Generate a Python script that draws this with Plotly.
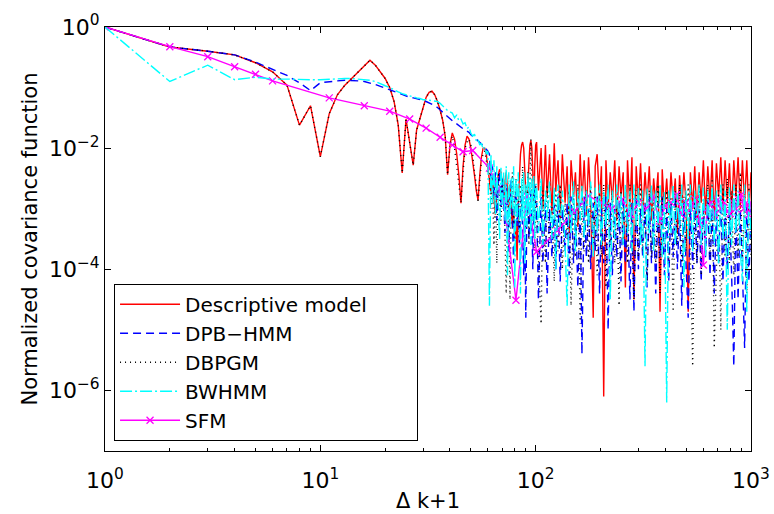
import plotly.graph_objects as go

# Lag axis (k+1): every integer up to 100, then a log-spaced subset up to 1000
lags_dense = list(range(1, 101))
lags_sparse = [
    101, 103, 106, 108, 111, 113, 116, 119, 122, 124,
    127, 130, 133, 137, 140, 143, 146, 150, 153, 157,
    161, 164, 168, 172, 176, 180, 185, 189, 193, 198,
    202, 207, 212, 217, 222, 227, 233, 238, 244, 249,
    255, 261, 267, 274, 280, 286, 293, 300, 307, 314,
    322, 329, 337, 345, 353, 361, 370, 378, 387, 396,
    406, 415, 425, 435, 445, 455, 466, 477, 488, 499,
    511, 523, 536, 548, 561, 574, 587, 601, 615, 630,
    645, 660, 675, 691, 707, 724, 741, 758, 776, 794,
    813, 832, 851, 871, 892, 912, 934, 956, 978, 1000,
]
lags = lags_dense + lags_sparse

# Normalized covariance, stored as log10 values (one row = 10 lags)
descriptive_log = [
    0.00, -0.33, -0.40, -0.46, -0.59, -0.74, -0.96, -1.62, -1.30, -2.14,
    -1.43, -1.12, -0.96, -0.85, -0.74, -0.64, -0.55, -0.63, -0.74, -0.85,
    -1.00, -1.23, -1.62, -2.41, -1.52, -1.90, -2.28, -1.70, -1.50, -1.32,
    -1.16, -1.08, -1.06, -1.12, -1.23, -1.37, -1.54, -1.80, -2.44, -1.95,
    -1.75, -1.85, -2.10, -2.45, -2.91, -2.30, -1.95, -1.80, -1.85, -2.00,
    -2.20, -2.45, -2.70, -2.86, -2.45, -2.15, -2.00, -2.00, -2.10, -2.30,
    -2.50, -2.75, -2.50, -2.90, -3.10, -2.70, -2.45, -2.35, -2.40, -2.60,
    -2.90, -2.55, -2.40, -2.70, -3.00, -2.60, -2.90, -3.30, -3.00, -3.50,
    -3.20, -3.85, -2.90, -2.40, -2.10, -1.95, -1.90, -2.00, -2.30, -2.75,
    -3.10, -2.60, -2.20, -1.95, -1.87, -2.00, -2.40, -2.90, -2.30, -1.95,
    -1.90, -2.70, -2.00, -3.00, -1.95, -2.80, -2.10, -3.10, -1.92, -2.70,
    -2.20, -3.20, -2.10, -2.90, -2.30, -3.40, -2.20, -2.80, -2.40, -3.30,
    -2.10, -2.90, -2.20, -3.10, -2.15, -2.80, -4.80, -2.30, -2.10, -2.90,
    -2.30, -6.10, -2.20, -3.00, -2.40, -2.90, -2.20, -3.20, -2.30, -2.80,
    -2.40, -4.30, -2.20, -3.00, -2.15, -4.50, -2.30, -2.90, -2.25, -3.10,
    -2.40, -2.90, -2.30, -3.20, -2.50, -2.90, -2.40, -4.70, -2.35, -3.00,
    -2.50, -3.10, -2.40, -2.90, -2.50, -3.40, -2.45, -3.00, -2.40, -2.90,
    -4.70, -2.40, -3.00, -2.30, -3.20, -2.40, -2.90, -2.20, -3.10, -2.30,
    -2.90, -2.20, -3.20, -2.25, -2.80, -2.15, -3.00, -2.20, -2.90, -2.25,
    -3.10, -2.20, -2.80, -2.15, -3.00, -2.20, -2.90, -2.20, -3.10, -2.40,
]

dpb_hmm_log = [
    0.00, -0.33, -0.40, -0.46, -0.58, -0.70, -0.80, -0.92, -1.05, -0.92,
    -0.90, -0.89, -0.88, -0.88, -0.89, -0.90, -0.92, -0.95, -0.98, -1.01,
    -1.04, -1.07, -1.10, -1.12, -1.14, -1.16, -1.17, -1.18, -1.19, -1.21,
    -1.23, -1.25, -1.27, -1.30, -1.33, -1.37, -1.41, -1.45, -1.49, -1.52,
    -1.55, -1.58, -1.60, -1.63, -1.66, -1.68, -1.70, -1.72, -1.74, -1.78,
    -1.80, -1.82, -1.85, -1.88, -1.90, -1.93, -1.96, -1.99, -2.02, -2.05,
    -2.10, -2.50, -2.30, -2.80, -2.40, -3.20, -2.60, -2.40, -3.00, -2.50,
    -2.80, -3.40, -2.60, -3.00, -3.70, -2.80, -2.50, -3.10, -3.90, -2.90,
    -2.70, -3.30, -2.90, -3.60, -3.00, -2.70, -3.40, -4.10, -3.20, -4.80,
    -3.00, -2.80, -3.50, -3.10, -2.70, -3.30, -4.00, -3.00, -2.60, -3.20,
    -2.90, -4.50, -2.80, -3.90, -2.90, -4.40, -3.00, -3.80, -2.90, -4.00,
    -2.80, -4.20, -3.00, -3.70, -2.90, -4.10, -2.80, -3.90, -3.00, -4.30,
    -2.90, -5.40, -2.80, -3.80, -3.00, -4.00, -2.90, -3.70, -2.80, -4.40,
    -3.00, -3.90, -2.80, -5.00, -2.90, -4.10, -3.00, -3.80, -2.90, -4.20,
    -2.80, -3.90, -3.00, -4.50, -2.90, -4.70, -2.80, -4.00, -3.00, -3.80,
    -2.90, -4.30, -2.80, -3.90, -3.00, -4.40, -2.90, -3.80, -2.80, -4.10,
    -3.00, -4.20, -2.90, -3.80, -2.80, -4.00, -3.00, -4.60, -2.90, -3.90,
    -4.80, -2.90, -4.00, -2.80, -3.90, -3.00, -4.20, -2.90, -3.80, -2.80,
    -4.10, -2.90, -4.40, -3.00, -3.90, -2.80, -4.20, -2.90, -4.00, -3.00,
    -4.10, -5.60, -2.90, -4.50, -3.00, -4.00, -5.30, -2.90, -4.20, -3.00,
]

# DBPGM follows the descriptive model over the first 40 lags
dbpgm_log = descriptive_log[:40] + [
    -1.80, -2.00, -2.30, -2.60, -2.90, -2.40, -2.00, -1.90, -1.85, -1.95,
    -2.10, -2.40, -2.60, -2.90, -2.50, -2.20, -2.10, -2.05, -2.20, -2.40,
    -2.30, -3.00, -2.50, -3.60, -2.60, -3.90, -2.40, -2.80, -3.20, -2.50,
    -2.60, -3.40, -4.40, -2.80, -3.00, -4.50, -2.70, -2.40, -3.30, -2.90,
    -2.50, -3.10, -2.70, -3.50, -2.60, -3.00, -2.30, -2.80, -3.30, -2.60,
    -2.90, -2.40, -3.60, -2.70, -1.85, -2.80, -3.20, -2.50, -3.70, -2.60,
    -2.80, -3.80, -4.90, -2.70, -3.90, -2.60, -3.60, -2.90, -4.20, -2.70,
    -3.70, -2.60, -4.00, -2.90, -3.50, -2.70, -4.60, -2.80, -3.80, -2.60,
    -4.90, -2.90, -3.70, -2.70, -3.90, -2.60, -3.60, -2.80, -4.10, -2.70,
    -3.80, -2.60, -4.30, -2.90, -3.60, -2.70, -3.90, -2.80, -4.60, -2.70,
    -3.60, -2.80, -3.90, -2.60, -3.70, -4.50, -2.70, -3.80, -2.60, -3.70,
    -2.90, -4.20, -2.70, -3.80, -2.80, -3.90, -2.60, -4.40, -2.80, -3.70,
    -2.70, -3.90, -2.80, -4.70, -2.70, -3.60, -2.60, -3.90, -2.80, -3.70,
    -2.60, -3.80, -5.60, -2.80, -3.90, -2.60, -4.10, -2.90, -3.70, -2.60,
    -3.80, -2.50, -5.30, -3.90, -2.70, -5.00, -2.60, -3.80, -2.50, -3.90,
    -2.70, -4.10, -2.60, -3.80, -2.40, -3.90, -2.80, -4.40, -2.60, -3.80,
]

bwhmm_log = [
    0.00, -0.90, -0.63, -0.87, -0.83, -0.86, -0.86, -0.87, -0.87, -0.87,
    -0.86, -0.85, -0.85, -0.85, -0.86, -0.87, -0.88, -0.90, -0.93, -0.97,
    -1.00, -1.04, -1.07, -1.10, -1.12, -1.14, -1.15, -1.17, -1.18, -1.20,
    -1.20, -1.21, -1.22, -1.22, -1.23, -1.26, -1.30, -1.35, -1.38, -1.40,
    -1.42, -1.50, -1.45, -1.55, -1.52, -1.60, -1.58, -1.68, -1.65, -1.75,
    -1.80, -1.77, -1.88, -1.85, -1.95, -1.92, -2.02, -1.98, -2.10, -2.05,
    -4.60, -2.10, -2.90, -2.20, -3.10, -2.30, -2.90, -3.50, -2.30, -3.00,
    -2.40, -3.20, -2.30, -4.10, -2.40, -3.30, -2.50, -3.00, -2.30, -4.30,
    -2.50, -3.20, -2.40, -3.00, -4.40, -2.50, -3.20, -2.40, -3.90, -2.60,
    -3.30, -2.40, -3.10, -2.50, -3.60, -2.50, -3.20, -2.45, -3.50, -2.60,
    -2.60, -3.40, -2.50, -3.60, -2.70, -3.20, -2.55, -3.50, -2.65, -4.00,
    -2.60, -3.30, -2.70, -3.60, -4.60, -2.60, -3.40, -2.55, -3.70, -2.70,
    -3.20, -2.60, -3.50, -2.70, -3.30, -2.55, -3.80, -2.65, -3.40, -2.60,
    -3.60, -2.70, -3.30, -2.60, -4.50, -2.70, -3.50, -2.60, -3.30, -2.75,
    -3.60, -2.60, -3.40, -2.70, -3.70, -2.60, -3.30, -2.65, -3.60, -2.70,
    -5.60, -2.65, -3.40, -2.60, -3.70, -2.70, -3.30, -2.60, -3.80, -2.70,
    -6.20, -2.70, -3.40, -2.60, -3.60, -2.75, -3.30, -2.60, -4.30, -2.70,
    -3.50, -2.60, -3.70, -2.70, -3.30, -2.60, -3.60, -2.65, -3.80, -2.70,
    -3.40, -2.60, -3.60, -2.70, -3.90, -2.60, -3.50, -2.70, -5.00, -2.65,
    -3.60, -2.60, -3.40, -2.70, -3.70, -4.20, -2.60, -4.70, -2.70, -3.50,
]

# SFM is evaluated on its own coarser lag grid
sfm_lags = [
    1, 2, 3, 4, 5, 6, 11, 16, 21, 26, 31, 36, 41, 46, 51, 61, 71, 81, 91, 101,
    126, 151, 176, 201, 226, 251, 276, 301, 326, 351, 376, 401, 426, 451, 476,
    501, 526, 551, 576, 601, 626, 651, 676, 701, 726, 751, 776, 801, 826, 851,
    876, 901, 926, 951, 976, 1000,
]
sfm_log = [
    0.00, -0.325, -0.49, -0.655, -0.78, -0.89, -1.17, -1.30, -1.39, -1.52,
    -1.67, -1.82, -1.95, -2.06, -2.04, -2.33, -2.86, -4.51, -2.79, -3.71,
    -3.36, -3.05, -2.79, -2.90, -3.00, -2.85, -3.10, -2.90, -3.00, -2.80,
    -3.20, -2.95, -2.90, -2.77, -3.10, -2.90, -3.00, -2.85, -3.20, -3.93,
    -3.00, -2.90, -3.10, -2.85, -3.00, -2.90, -3.05, -3.08, -2.90, -3.00,
    -2.85, -2.77, -3.00, -2.90, -3.10, -2.90,
]

for series in (descriptive_log, dpb_hmm_log, dbpgm_log, bwhmm_log):
    assert len(series) == len(lags), len(series)
assert len(sfm_log) == len(sfm_lags)


def from_log(values):
    return [10.0 ** v for v in values]


FONT = "DejaVu Sans"
LW = 1.4

fig = go.Figure()
fig.add_trace(go.Scatter(
    x=lags, y=from_log(descriptive_log), mode="lines",
    name="Descriptive model" + "\u00a0" * 7, legendrank=1,
    line=dict(color="#FF0000", width=LW),
))
fig.add_trace(go.Scatter(
    x=lags, y=from_log(dpb_hmm_log), mode="lines", name="DPB\u2212HMM",
    legendrank=2, line=dict(color="#0000FF", width=LW, dash="8px,5px"),
))
fig.add_trace(go.Scatter(
    x=lags, y=from_log(dbpgm_log), mode="lines", name="DBPGM", legendrank=3,
    line=dict(color="#000000", width=LW, dash="1px,4px"),
))
fig.add_trace(go.Scatter(
    x=sfm_lags, y=from_log(sfm_log), mode="lines+markers", name="SFM",
    legendrank=5, line=dict(color="#FF00FF", width=LW),
    marker=dict(symbol="x-thin", size=7, color="#FF00FF",
                line=dict(width=1.3, color="#FF00FF")),
))
fig.add_trace(go.Scatter(
    x=lags, y=from_log(bwhmm_log), mode="lines", name="BWHMM", legendrank=4,
    line=dict(color="#00FFFF", width=LW, dash="12px,3px,2px,3px"),
))

x_major = [1, 10, 100, 1000]
x_minor = [m * d for d in (1, 10, 100) for m in range(2, 10)]
y_major = [1, 1e-2, 1e-4, 1e-6]

fig.update_xaxes(
    type="log", range=[0, 3],
    tickmode="array", tickvals=x_major,
    ticktext=["10<sup>0</sup>", "10<sup>1</sup>", "10<sup>2</sup>", "10<sup>3</sup>"],
    ticks="inside", ticklen=6, tickcolor="black",
    ticklabelposition="outside", ticklabelstandoff=10,
    minor=dict(tickmode="array", tickvals=x_minor, ticks="inside", ticklen=3,
               tickcolor="black"),
    showline=True, linecolor="black", linewidth=1, mirror="ticks",
    showgrid=False, zeroline=False, automargin=False,
    tickfont=dict(family=FONT, size=22, color="black"),
    title=dict(text="\u0394 k+1", font=dict(family=FONT, size=21, color="black"),
               standoff=0),
)
fig.update_yaxes(
    type="log", range=[-7, 0],
    tickmode="array", tickvals=y_major,
    ticktext=["10<sup>0</sup>", "10<sup>\u22122</sup>", "10<sup>\u22124</sup>",
              "10<sup>\u22126</sup>"],
    ticks="inside", ticklen=6, tickcolor="black",
    showline=True, linecolor="black", linewidth=1, mirror="ticks",
    showgrid=False, zeroline=False, automargin=False,
    tickfont=dict(family=FONT, size=22, color="black"),
    title=dict(text="Normalized covariance function",
               font=dict(family=FONT, size=21, color="black"), standoff=5),
)

fig.update_layout(
    width=774, height=514,
    margin=dict(l=105, r=23, t=27, b=63),
    paper_bgcolor="white", plot_bgcolor="white",
    showlegend=True,
    legend=dict(
        x=0.014, y=0.024, xanchor="left", yanchor="bottom",
        bgcolor="white", bordercolor="black", borderwidth=1,
        font=dict(family=FONT, size=20, color="black"),
        itemwidth=60, tracegroupgap=0, traceorder="normal",
    ),
)

fig.write_html("out.html")
